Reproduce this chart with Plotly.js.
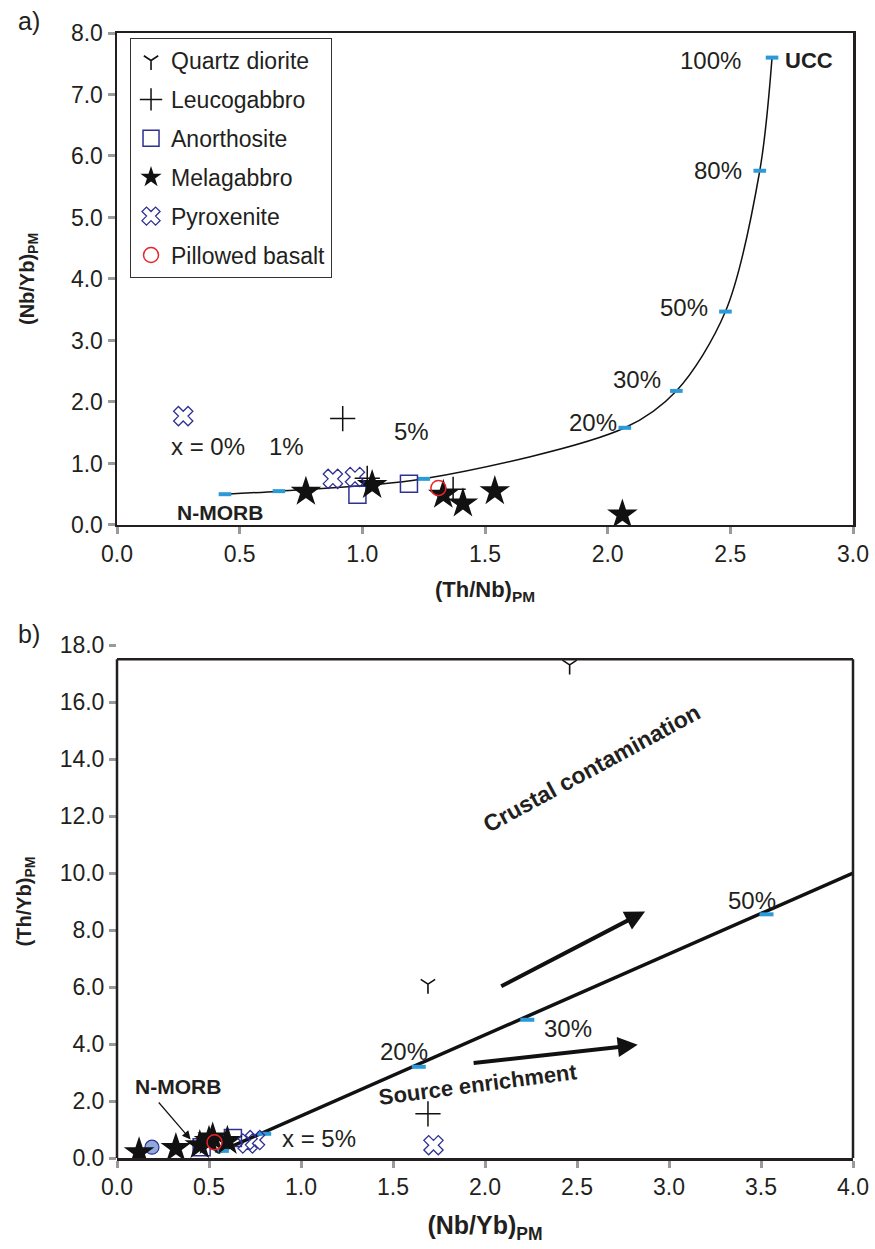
<!DOCTYPE html>
<html>
<head>
<meta charset="utf-8">
<script src="https://cdn.plot.ly/plotly-3.0.1.min.js"></script>
<style>html,body{margin:0;padding:0;background:#fff;}#chart{width:875px;height:1249px;}</style>
</head>
<body>
<div id="chart"></div>
<script>
// ---------- Panel a: (Th/Nb)PM vs (Nb/Yb)PM ----------
const mixA_x = [0.44, 0.66, 1.25, 2.07, 2.28, 2.48, 2.62, 2.67];
const mixA_y = [0.50, 0.55, 0.75, 1.58, 2.18, 3.47, 5.76, 7.60];
const mixA_labels = ['x = 0%', '1%', '5%', '20%', '30%', '50%', '80%', '100%'];

const a_leuco_x = [0.92, 1.02, 1.37];
const a_leuco_y = [1.73, 0.76, 0.58];
const a_anor_x = [0.98, 1.19];
const a_anor_y = [0.49, 0.67];
const a_mela_x = [0.77, 1.04, 1.33, 1.41, 1.54, 2.06];
const a_mela_y = [0.54, 0.65, 0.49, 0.35, 0.55, 0.17];
const a_pyrox_x = [0.27, 0.88, 0.97];
const a_pyrox_y = [1.77, 0.75, 0.78];
const a_basalt_x = [1.31];
const a_basalt_y = [0.60];

// ---------- Panel b: (Nb/Yb)PM vs (Th/Yb)PM ----------
const mixB_line_x = [0.55, 4.0];
const mixB_line_y = [0.20, 10.0];
const mixB_x = [0.57, 0.80, 1.64, 2.23, 3.53];
const mixB_y = [0.25, 0.85, 3.20, 4.85, 8.55];

const b_qd_x = [1.69, 2.46];
const b_qd_y = [6.10, 17.30];
const b_leuco_x = [1.69];
const b_leuco_y = [1.55];
const b_anor_x = [0.46, 0.63];
const b_anor_y = [0.38, 0.70];
const b_mela_x = [0.12, 0.32, 0.45, 0.52, 0.50, 0.60];
const b_mela_y = [0.20, 0.35, 0.45, 0.72, 0.60, 0.60];
const b_pyrox_x = [1.72, 0.71, 0.75];
const b_pyrox_y = [0.45, 0.51, 0.63];
const b_basalt_x = [0.53];
const b_basalt_y = [0.55];
const nmorb_x = [0.19];
const nmorb_y = [0.38];

const NAVY = '#2e3192';
const RED = '#e8232a';
const MIXBLUE = '#2b9ad8';
const INK = '#231f20';
const FONT = 'Liberation Sans, Arial, sans-serif';

function pts(x, y, name, symbol, size, color, opts) {
  const o = Object.assign({lw: 1.5, xa: 'x', ya: 'y', legend: false, group: name}, opts || {});
  return {
    type: 'scatter', mode: 'markers', x: x, y: y, name: name,
    xaxis: o.xa, yaxis: o.ya, showlegend: o.legend, legendgroup: o.group,
    marker: {symbol: symbol, size: size, color: color,
             line: {color: o.lineColor || color, width: o.lw}},
    hoverinfo: 'x+y+name'
  };
}

const traces = [
  // panel a curve
  {type: 'scatter', mode: 'lines', x: mixA_x, y: mixA_y, line: {color: '#111', width: 1.5, shape: 'spline', smoothing: 0.9},
   showlegend: false, hoverinfo: 'skip', xaxis: 'x', yaxis: 'y'},
  {type: 'scatter', mode: 'markers', x: mixA_x, y: mixA_y, showlegend: false, xaxis: 'x', yaxis: 'y',
   marker: {symbol: 'line-ew', size: 9, color: MIXBLUE, line: {color: MIXBLUE, width: 4}}, text: mixA_labels, hoverinfo: 'text'},
  pts(a_leuco_x, a_leuco_y, 'Leucogabbro', 'cross-thin', 18, '#111'),
  pts(a_anor_x, a_anor_y, 'Anorthosite', 'square-open', 17, NAVY),
  pts(a_mela_x, a_mela_y, 'Melagabbro', 'star', 23, '#111', {lw: 0}),
  pts(a_pyrox_x, a_pyrox_y, 'Pyroxenite', 'x-open', 17, NAVY, {lw: 1.3}),
  pts(a_basalt_x, a_basalt_y, 'Pillowed basalt', 'circle-open', 15, RED),

  // panel b line
  {type: 'scatter', mode: 'lines', x: mixB_line_x, y: mixB_line_y, line: {color: '#111', width: 3.5},
   showlegend: false, hoverinfo: 'skip', xaxis: 'x2', yaxis: 'y2'},
  {type: 'scatter', mode: 'markers', x: mixB_x, y: mixB_y, showlegend: false, xaxis: 'x2', yaxis: 'y2',
   marker: {symbol: 'line-ew', size: 10, color: MIXBLUE, line: {color: MIXBLUE, width: 4}}, hoverinfo: 'x+y'},
  pts(nmorb_x, nmorb_y, 'N-MORB', 'circle', 14, '#8ea9db', {xa: 'x2', ya: 'y2', lineColor: NAVY, lw: 1.2}),
  pts(b_qd_x, b_qd_y, 'Quartz diorite', 'y-down', 12, '#111', {xa: 'x2', ya: 'y2', legend: true, lw: 1.6}),
  pts(b_leuco_x, b_leuco_y, 'Leucogabbro', 'cross-thin', 18, '#111', {xa: 'x2', ya: 'y2', legend: true}),
  pts(b_anor_x, b_anor_y, 'Anorthosite', 'square-open', 17, NAVY, {xa: 'x2', ya: 'y2', legend: true}),
  pts(b_mela_x, b_mela_y, 'Melagabbro', 'star', 23, '#111', {xa: 'x2', ya: 'y2', legend: true, lw: 0}),
  pts(b_pyrox_x, b_pyrox_y, 'Pyroxenite', 'x-open', 17, NAVY, {xa: 'x2', ya: 'y2', legend: true, lw: 1.3}),
  pts(b_basalt_x, b_basalt_y, 'Pillowed basalt', 'circle-open', 15, RED, {xa: 'x2', ya: 'y2', legend: true})
];

const tickFont = {family: FONT, size: 23, color: INK};
const axBase = {showgrid: false, zeroline: false, ticks: 'outside', ticklen: 7, tickwidth: 3,
  tickcolor: '#9a9a9a', tickfont: tickFont, tickformat: '.1f', fixedrange: true,
  linecolor: INK, linewidth: 2.5};

const ann = [];
function lab(text, x, y, xr, yr, size, bold, extra) {
  ann.push(Object.assign({text: bold ? '<b>' + text + '</b>' : text, x: x, y: y, xref: xr, yref: yr,
    showarrow: false, font: {family: FONT, size: size, color: INK}}, extra || {}));
}
// panel a labels
lab('x = 0%', 0.37, 1.27, 'x', 'y', 24);
lab('1%', 0.69, 1.27, 'x', 'y', 24);
lab('5%', 1.20, 1.52, 'x', 'y', 24);
lab('20%', 1.94, 1.66, 'x', 'y', 24);
lab('30%', 2.12, 2.36, 'x', 'y', 24);
lab('50%', 2.31, 3.54, 'x', 'y', 24);
lab('80%', 2.45, 5.77, 'x', 'y', 24);
lab('100%', 2.42, 7.56, 'x', 'y', 24);
lab('UCC', 2.82, 7.56, 'x', 'y', 22, true);
lab('N-MORB', 0.42, 0.21, 'x', 'y', 21, true);
// panel b labels
lab('50%', 3.45, 9.05, 'x2', 'y2', 24);
lab('30%', 2.45, 4.56, 'x2', 'y2', 24);
lab('20%', 1.56, 3.72, 'x2', 'y2', 24);
lab('x = 5%', 1.10, 0.70, 'x2', 'y2', 24);
lab('N-MORB', 0.33, 2.50, 'x2', 'y2', 21, true);
lab('Crustal contamination', 2.58, 13.7, 'x2', 'y2', 23, true, {textangle: -28.5});
lab('Source enrichment', 1.96, 2.58, 'x2', 'y2', 22, true, {textangle: -7.5});
// arrows in panel b
ann.push({x: 0.40, y: 0.65, ax: 0.22, ay: 2.0, xref: 'x2', yref: 'y2', axref: 'x2', ayref: 'y2', text: '',
  showarrow: true, arrowhead: 2, arrowsize: 1.4, arrowwidth: 1.2, arrowcolor: '#111', standoff: 0});
ann.push({x: 2.87, y: 8.65, ax: 2.08, ay: 6.0, xref: 'x2', yref: 'y2', axref: 'x2', ayref: 'y2', text: '',
  showarrow: true, arrowhead: 2, arrowsize: 1.0, arrowwidth: 4, arrowcolor: '#111'});
ann.push({x: 2.83, y: 3.97, ax: 1.93, ay: 3.33, xref: 'x2', yref: 'y2', axref: 'x2', ayref: 'y2', text: '',
  showarrow: true, arrowhead: 2, arrowsize: 1.0, arrowwidth: 4, arrowcolor: '#111'});
// panel letters
lab('a)', -0.12, 1.011, 'paper', 'paper', 25, false, {xanchor: 'center', yanchor: 'middle'});
lab('b)', -0.12, 0.4655, 'paper', 'paper', 25, false, {xanchor: 'center', yanchor: 'middle'});

const layout = {
  width: 875, height: 1249,
  margin: {l: 117, r: 22, t: 33, b: 91},
  paper_bgcolor: '#fff', plot_bgcolor: '#fff',
  font: {family: FONT, color: INK},
  showlegend: true,
  legend: {x: 0.0177, y: 0.9955, xanchor: 'left', yanchor: 'top', bgcolor: '#fff', bordercolor: '#333', borderwidth: 1,
           font: {family: FONT, size: 23, color: INK}, tracegroupgap: 6, itemsizing: 'trace'},
  xaxis: Object.assign({}, axBase, {domain: [0, 1], anchor: 'y', range: [0, 3], dtick: 0.5, showline: true, mirror: true,
    title: {text: '<b>(Th/Nb)<sub>PM</sub></b>', font: {family: FONT, size: 22}, standoff: 16}}),
  yaxis: Object.assign({}, axBase, {domain: [0.5627, 1], anchor: 'x', range: [0, 8], dtick: 1, showline: true, mirror: true,
    title: {text: '<b>(Nb/Yb)<sub>PM</sub></b>', font: {family: FONT, size: 20}, standoff: 31}}),
  xaxis2: Object.assign({}, axBase, {domain: [0, 1], anchor: 'y2', range: [0, 4], dtick: 0.5, showline: true, mirror: false,
    title: {text: '<b>(Nb/Yb)<sub>PM</sub></b>', font: {family: FONT, size: 25}, standoff: 18}}),
  yaxis2: Object.assign({}, axBase, {domain: [0, 0.456], anchor: 'x2', range: [0, 18], dtick: 2, showline: false,
    title: {text: '<b>(Th/Yb)<sub>PM</sub></b>', font: {family: FONT, size: 20}, standoff: 22}}),
  shapes: [
    {type: 'line', xref: 'paper', yref: 'y2', x0: 0, x1: 0, y0: 0, y1: 17.5, line: {color: INK, width: 2.5}, layer: 'above'},
    {type: 'line', xref: 'paper', yref: 'y2', x0: 1, x1: 1, y0: 0, y1: 17.5, line: {color: INK, width: 2.5}, layer: 'above'},
    {type: 'line', xref: 'paper', yref: 'y2', x0: 0, x1: 1, y0: 17.5, y1: 17.5, line: {color: INK, width: 2.5}, layer: 'above'}
  ],
  annotations: ann
};

Plotly.newPlot('chart', traces, layout, {displayModeBar: false, staticPlot: true});
</script>
</body>
</html>
